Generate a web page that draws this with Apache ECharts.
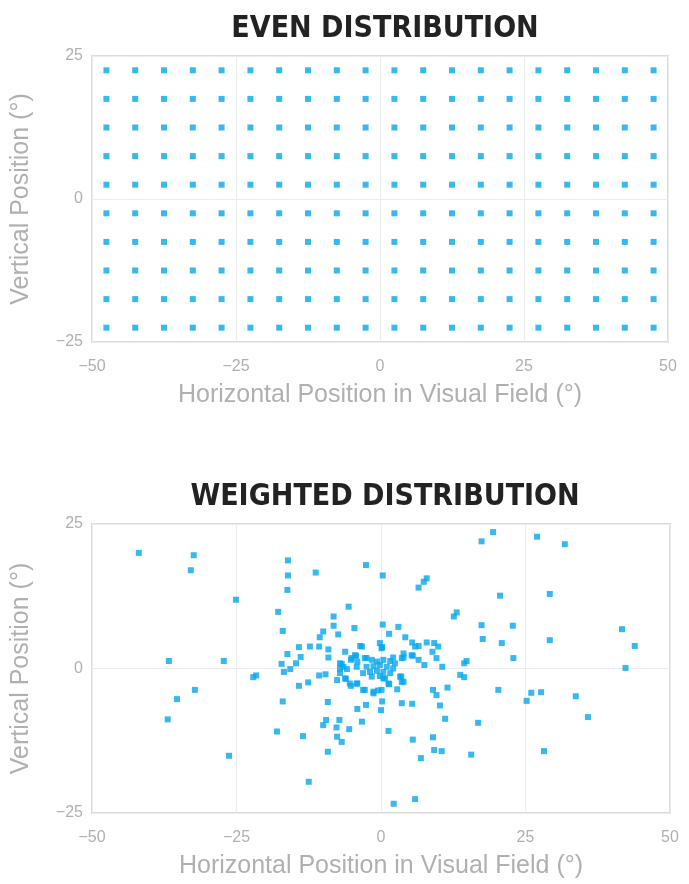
<!DOCTYPE html>
<html>
<head>
<meta charset="utf-8">
<script src="https://cdn.jsdelivr.net/npm/echarts@6/dist/echarts.min.js"></script>
<style>
  html, body { margin: 0; padding: 0; background: #fff; }
  #chart { width: 689px; height: 884px; }
</style>
</head>
<body>
<div id="chart"></div>
<script>
// even grid: column and row centres (degrees)
const evenX = [-47.5, -42.5, -37.5, -32.5, -27.5, -22.5, -17.5, -12.5, -7.5, -2.5,
  2.5, 7.5, 12.5, 17.5, 22.5, 27.5, 32.5, 37.5, 42.5, 47.5];
const evenY = [22.5, 17.5, 12.5, 7.5, 2.5, -2.5, -7.5, -12.5, -17.5, -22.5];

// weighted distribution [x, y]
const weightedPoints = [
  [-41.9, 20.0], [-32.4, 19.6], [-32.9, 17.0], [-25.1, 11.9], [-36.7, 1.3], [-27.2, 1.3],
  [-16.1, 18.7], [-16.1, 16.1], [-16.2, 13.6], [-11.3, 16.6], [-2.6, 17.9], [-17.8, 9.8],
  [-5.6, 10.7], [-8.2, 9.0], [-8.2, 7.4], [-4.6, 7.0], [-17.0, 6.5], [-10.0, 6.4],
  [-10.6, 5.4], [-7.4, 5.9], [-14.2, 3.7], [-12.3, 3.8], [-10.7, 3.8], [-9.1, 3.3],
  [-16.2, 2.5], [-13.9, 2.0], [-9.1, 1.9], [-6.2, 2.9], [-3.3, 3.8], [-4.3, 2.2],
  [-17.2, 0.8], [-14.7, 0.9], [-6.8, 0.8], [-5.2, 1.5], [-2.5, 1.8],
  [19.4, 23.6], [17.4, 22.0], [27.0, 22.8], [31.8, 21.5], [0.3, 16.1], [7.9, 15.6],
  [7.4, 15.0], [6.5, 14.0], [20.6, 12.6], [29.2, 12.9], [13.1, 9.7], [12.6, 9.0],
  [0.3, 7.6], [3.0, 7.2], [1.4, 6.0], [17.4, 7.5], [22.8, 7.4], [41.7, 6.8],
  [43.9, 3.9], [17.6, 5.1], [20.9, 4.4], [29.2, 4.9], [4.2, 5.4], [5.4, 4.5],
  [6.5, 3.9], [7.9, 4.5], [9.2, 4.4], [9.9, 3.8], [8.9, 2.9], [-0.2, 4.4],
  [0.1, 3.5], [5.5, 2.2], [6.5, 1.5], [3.9, 1.9], [2.1, 1.9], [9.6, 1.8],
  [7.5, 0.6], [10.6, 0.3], [14.8, 1.3], [14.4, 0.9], [22.9, 1.8], [42.3, 0.1],
  [20.3, -3.7], [26.0, -4.2], [27.7, -4.1], [25.2, -5.6], [33.7, -4.8], [35.8, -8.4],
  [28.2, -14.3], [16.8, -9.4], [11.1, -8.7], [10.2, -6.4], [11.5, -3.3], [9.0, -3.7],
  [9.6, -4.6], [3.6, -6.0], [5.4, -6.1], [0.2, -5.7], [0.0, -7.2], [1.3, -10.8],
  [5.5, -12.3], [9.0, -11.9], [9.2, -14.1], [10.5, -14.3], [6.9, -15.5], [15.6, -14.9],
  [5.9, -22.6], [2.2, -23.4], [13.7, -1.1], [14.4, -1.5], [3.5, -1.4], [3.9, -2.3],
  [2.8, -3.6], [1.4, -2.7], [0.4, -1.7], [-0.5, -3.8], [-1.3, -4.3],
  [-32.2, -3.7], [-35.3, -5.3], [-36.9, -8.8], [-26.3, -15.1], [-12.5, -19.6], [-18.0, -10.9],
  [-13.5, -11.7], [-17.0, -5.7], [-9.2, -5.8], [-9.2, -14.4], [-9.5, -8.9], [-10.0, -9.8],
  [-7.2, -8.9], [-7.7, -10.2], [-7.6, -11.8], [-6.8, -12.7], [-5.5, -10.5], [-3.3, -9.2],
  [-4.1, -7.0], [-2.6, -6.3], [-21.6, -1.2], [-22.1, -1.5], [-14.2, -3.0], [-12.6, -2.4],
  [-10.7, -1.2], [-9.6, -1.0], [-7.6, -2.0], [-6.1, -1.8], [-5.2, -3.0], [-4.1, -2.6],
  [-3.1, -3.7], [-16.8, -0.6], [-15.7, -0.1], [-7.1, 0.9], [-7.1, 0.0], [-5.9, -0.1],
  [-4.2, 0.3], [-3.1, -0.8], [-1.9, -0.6],
  [-3.6, 3.9], [0.2, 3.7], [-4.5, 2.3], [-5.1, 1.8], [-4.1, 1.2], [-2.8, 1.8],
  [-1.6, 1.5], [-0.7, 1.2], [0.4, 1.5], [1.6, 1.3], [2.4, 0.9], [-2.5, 0.3],
  [-1.3, 0.4], [-0.2, 0.6], [1.0, 0.3], [2.1, 0.0], [-0.7, -0.4], [0.4, -0.6],
  [1.6, -0.8], [-1.6, -1.4], [-0.2, -1.3], [0.7, -1.7], [3.6, 1.8], [3.9, 2.6],
  [5.3, 2.3], [5.9, 3.8], [3.3, -1.4], [3.6, -2.3], [1.3, -2.6], [-6.2, -1.7],
  [-5.4, -2.6], [-4.2, -2.6], [-2.8, -3.7], [-1.3, -4.0], [0.1, -3.7], [-6.5, 0.3],
  [-7.1, -0.8]
];

const titles = ['EVEN DISTRIBUTION', 'WEIGHTED DISTRIBUTION'];
const xName = 'Horizontal Position in Visual Field (°)';
const yName = 'Vertical Position (°)';

const evenPoints = [];
evenY.forEach(y => evenX.forEach(x => evenPoints.push([x, y])));

const dotColor = '#06a6ec';
const labelColor = '#b0b0b0';
const textFont = "'Liberation Sans', Arial, sans-serif";
const titleFont = "'DejaVu Sans Condensed', 'Liberation Sans', sans-serif";
const minus = v => String(v).replace('-', '−');

function xAxis(gridIndex) {
  return {
    gridIndex, type: 'value', min: -50, max: 50, interval: 25,
    name: xName, nameLocation: 'middle', nameGap: 41,
    nameTextStyle: { color: labelColor, fontSize: 25, fontFamily: textFont },
    axisLine: { show: false }, axisTick: { show: false },
    axisLabel: { color: labelColor, fontSize: 16, fontFamily: textFont, margin: 17, formatter: minus },
    splitLine: { lineStyle: { color: '#ececec', width: 1 } }
  };
}
function yAxis(gridIndex) {
  return {
    gridIndex, type: 'value', min: -25, max: 25, interval: 25,
    name: yName, nameLocation: 'middle', nameGap: 58, nameRotate: 90,
    nameTextStyle: { color: labelColor, fontSize: 25, fontFamily: textFont },
    axisLine: { show: false }, axisTick: { show: false },
    axisLabel: { color: labelColor, fontSize: 16, fontFamily: textFont, margin: 9, formatter: minus },
    splitLine: { lineStyle: { color: '#ececec', width: 1 } }
  };
}

const chart = echarts.init(document.getElementById('chart'));
chart.setOption({
  backgroundColor: '#fff',
  animation: false,
  title: [
    { text: titles[0], left: 380, top: 9, textAlign: 'center',
      textStyle: { fontSize: 30, fontWeight: 'bold', color: '#222', fontFamily: titleFont } },
    { text: titles[1], left: 380, top: 477, textAlign: 'center',
      textStyle: { fontSize: 30, fontWeight: 'bold', color: '#222', fontFamily: titleFont } }
  ],
  grid: [
    { left: 92, right: 21, top: 56, height: 286, show: true, borderColor: '#dcdcdc', borderWidth: 2 },
    { left: 92, right: 19, top: 524, height: 289, show: true, borderColor: '#dcdcdc', borderWidth: 2 }
  ],
  xAxis: [xAxis(0), xAxis(1)],
  yAxis: [yAxis(0), yAxis(1)],
  series: [
    { type: 'scatter', xAxisIndex: 0, yAxisIndex: 0, data: evenPoints,
      symbol: 'rect', symbolSize: 6, itemStyle: { color: dotColor } },
    { type: 'scatter', xAxisIndex: 1, yAxisIndex: 1, data: weightedPoints,
      symbol: 'rect', symbolSize: 6, itemStyle: { color: dotColor } }
  ]
});
</script>
</body>
</html>
